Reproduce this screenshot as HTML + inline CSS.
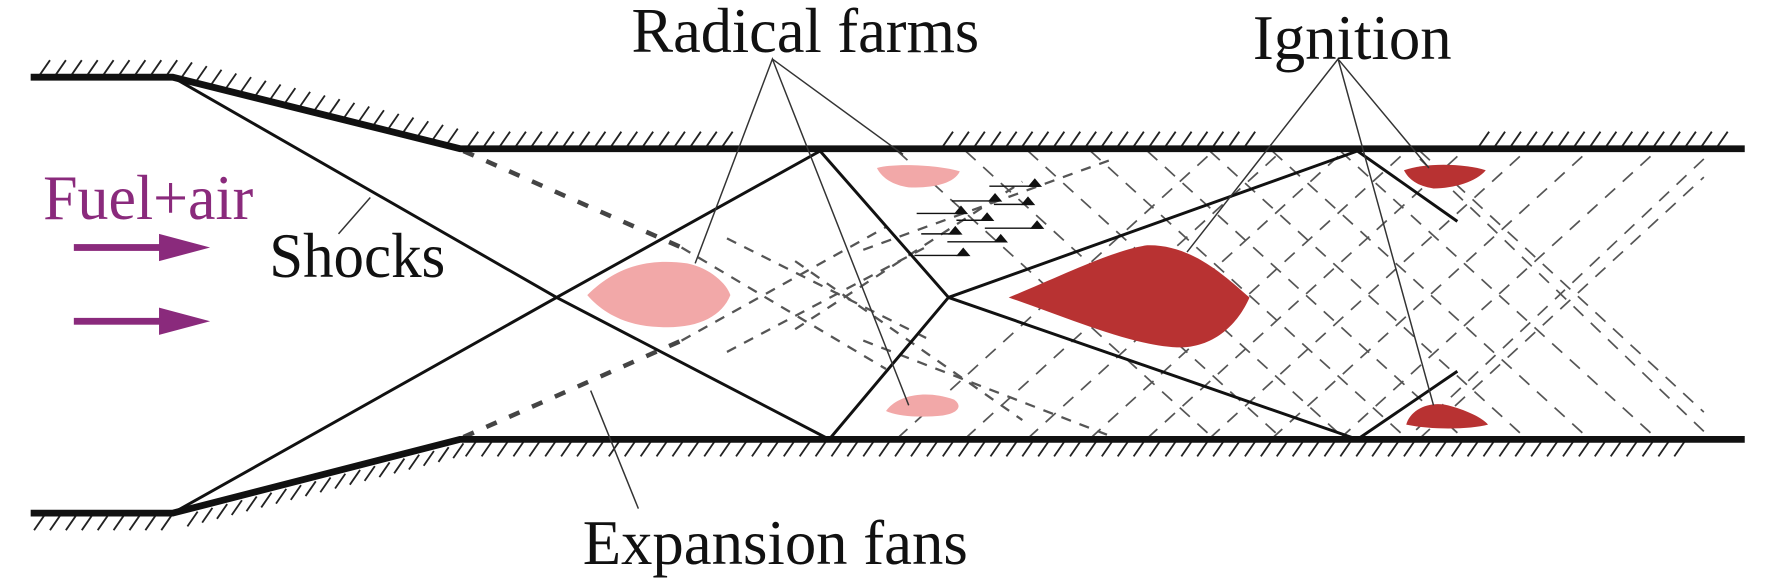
<!DOCTYPE html>
<html><head><meta charset="utf-8"><style>
html,body{margin:0;padding:0;background:#fff;width:1772px;height:579px;overflow:hidden}
svg{display:block}
text{font-family:"Liberation Serif",serif}
</style></head><body>
<svg width="1772" height="579" viewBox="0 0 1560 510" preserveAspectRatio="none" xmlns="http://www.w3.org/2000/svg">
<script>
(function(){
var ns="http://www.w3.org/2000/svg";
var svg=document.currentScript.parentNode;
function L(x1,y1,x2,y2,attrs){var l=document.createElementNS(ns,"line");l.setAttribute("x1",x1);l.setAttribute("y1",y1);l.setAttribute("x2",x2);l.setAttribute("y2",y2);for(var k in attrs)l.setAttribute(k,attrs[k]);svg.appendChild(l);}
var h={stroke:"#222","stroke-width":1.6};
for(var x=35;x<=150;x+=14)L(x,66,x+9,53,h);
for(var x=160;x<=400;x+=13){var y=68+(x-152)*(63/253);L(x,y-2,x+9,y-15,h);}
for(var x=412;x<=642;x+=14)L(x,129,x+9,116,h);
for(var x=830;x<=1108;x+=14)L(x,129,x+9,116,h);
for(var x=1302;x<=1520;x+=14)L(x,129,x+9,116,h);
for(var x=30;x<=150;x+=14)L(x,467,x+9,454,h);
for(var x=165;x<=400;x+=13){var y=452-(x-152)*(65/253);L(x,y+15,x+9,y+2,h);}
for(var x=410;x<=1475;x+=14)L(x,402,x+9,389,h);
var d={stroke:"#555","stroke-width":1.5,"stroke-dasharray":"12 9"};
var s=0.92;
[790,850,905,960,1010,1065,1120,1180,1250].forEach(function(x0){var x1=x0+(256/s);if(x1>1500){L(x0,133,1500,133+(1500-x0)*s,d);}else L(x0,133,x1,386,d);});
[790,850,905,960,1010,1065,1120,1180,1250].forEach(function(x0){var x1=x0+(256/s);if(x1>1500){L(x0,386,1500,386-(1500-x0)*s,d);}else L(x0,386,x1,133,d);});
L(1500,140,1240,385,d);L(1500,380,1250,140,d);
var f={stroke:"#444","stroke-width":4,"stroke-dasharray":"10 12"};
L(408,133,600,218,f);L(408,385,600,300,f);
var f2={stroke:"#555","stroke-width":2,"stroke-dasharray":"9 8"};
L(600,218,780,325,f2);L(600,300,780,200,f2);
L(640,210,820,300,f2);L(640,310,820,215,f2);
L(700,230,900,370,f2);L(700,290,900,160,f2);
L(760,300,980,385,f2);L(760,220,980,140,f2);
})();
</script>
<g fill="none" stroke="#111" stroke-width="6" stroke-linejoin="miter">
<polyline points="27,68 152,68 405,131 1536,131"/>
<polyline points="27,452 152,452 405,387 1536,387"/>
</g>
<path d="M517,260 C545,232 575,228 605,232 C625,236 640,250 643,260 C635,280 612,290 580,288 C550,287 530,275 517,260 Z" fill="#f2a8a8"/>
<path d="M772,148 C790,143 830,146 845,151 C840,162 820,166 800,165 C785,163 776,156 772,148 Z" fill="#f2a8a8"/>
<path d="M780,362 C790,348 815,343 840,352 C848,358 843,364 830,366 C810,368 790,367 780,362 Z" fill="#f2a8a8"/>
<path d="M888,262 C930,245 980,220 1010,216 C1050,215 1080,245 1100,262 C1090,285 1070,305 1040,306 C1000,306 940,280 888,262 Z" fill="#b83232"/>
<path d="M1236,150 C1255,143 1290,144 1308,150 C1300,160 1280,166 1262,166 C1248,164 1240,158 1236,150 Z" fill="#b83232"/>
<path d="M1238,374 C1242,360 1260,352 1278,358 C1292,362 1305,368 1310,374 C1295,378 1262,379 1238,374 Z" fill="#b83232"/>
<g fill="none" stroke="#111" stroke-width="2.6">
<polyline points="152,68 490,262 730,387 835,262 722,133 490,262 152,452"/>
<polyline points="835,262 1195,133 1283,195"/>
<polyline points="835,262 1195,387 1283,327"/>
</g>
<g stroke="#333" stroke-width="1.3" fill="none">
<polyline points="612,232 680,52 800,357"/>
<line x1="680" y1="52" x2="795" y2="136"/>
<polyline points="1045,222 1178,52 1262,357"/>
<line x1="1178" y1="52" x2="1258" y2="148"/>
<line x1="298" y1="206" x2="326" y2="174"/>
<line x1="562" y1="448" x2="520" y2="344"/>
</g>
<g stroke="#111" stroke-width="1.3" fill="#111">
<line x1="871" y1="164" x2="915" y2="164"/><path d="M906,164 L911,158 L916,164Z"/>
<line x1="838" y1="177" x2="880" y2="177"/><path d="M871,177 L876,171 L881,177Z"/>
<line x1="875" y1="180" x2="909" y2="180"/><path d="M900,180 L905,174 L910,180Z"/>
<line x1="807" y1="188" x2="850" y2="188"/><path d="M841,188 L846,182 L851,188Z"/>
<line x1="842" y1="194" x2="873" y2="194"/><path d="M864,194 L869,188 L874,194Z"/>
<line x1="867" y1="201" x2="917" y2="201"/><path d="M908,201 L913,195 L918,201Z"/>
<line x1="811" y1="206" x2="845" y2="206"/><path d="M836,206 L841,200 L846,206Z"/>
<line x1="834" y1="213" x2="885" y2="213"/><path d="M876,213 L881,207 L886,213Z"/>
<line x1="805" y1="225" x2="852" y2="225"/><path d="M843,225 L848,219 L853,225Z"/>
</g>
<g fill="#8a2a7c">
<rect x="65" y="215" width="80" height="6"/><path d="M140,206 L185,218 L140,230Z"/>
<rect x="65" y="280" width="80" height="6"/><path d="M140,271 L185,283 L140,295Z"/>
</g>
<text x="556" y="46" font-size="56" textLength="306" lengthAdjust="spacingAndGlyphs" fill="#111">Radical farms</text>
<text x="1103" y="52" font-size="56" textLength="175" lengthAdjust="spacingAndGlyphs" fill="#111">Ignition</text>
<text x="237" y="244" font-size="56" textLength="155" lengthAdjust="spacingAndGlyphs" fill="#111">Shocks</text>
<text x="38" y="193" font-size="56" textLength="185" lengthAdjust="spacingAndGlyphs" fill="#8a2a7c">Fuel+air</text>
<text x="513" y="497" font-size="56" textLength="339" lengthAdjust="spacingAndGlyphs" fill="#111">Expansion fans</text>
</svg>
</body></html>
